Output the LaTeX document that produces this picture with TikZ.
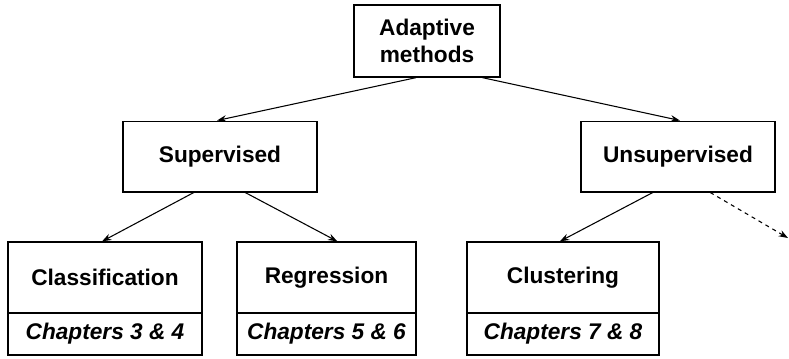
\documentclass[tikz,border=0pt]{standalone}
\usepackage{fontspec}
\setmainfont{Liberation Sans}
\usetikzlibrary{calc,arrows.meta}
\begin{document}
\begin{tikzpicture}[x=0.75pt,y=-0.75pt,
  box/.style={draw,line width=1pt,inner sep=0pt,align=center,font=\fontsize{17}{20}\selectfont\bfseries},
  chap/.style={draw,line width=1pt,inner sep=0pt,align=center,font=\fontsize{17}{20}\selectfont\bfseries\itshape},
  arr/.style={line width=0.8pt,-{Stealth[length=7pt,width=5pt]}}]
\useasboundingbox (0,0) rectangle (789,358);
\node[box,minimum width=109.5pt,minimum height=54pt] (top) at (427,41) {Adaptive\\methods};
\node[box,minimum width=145.5pt,minimum height=53pt] (sup) at (220,156.5) {Supervised};
\node[box,minimum width=145.5pt,minimum height=53pt] (uns) at (678,156.5) {Unsupervised};
\node[box,minimum width=145.5pt,minimum height=53.25pt] (cls) at (105,277.5) {Classification};
\node[chap,minimum width=145.5pt,minimum height=31.5pt] (cls2) at (105,334) {Chapters 3 \& 4};
\node[box,minimum width=134.25pt,minimum height=53.25pt] (reg) at (326.5,277.5) {Regression};
\node[chap,minimum width=134.25pt,minimum height=31.5pt] (reg2) at (326.5,334) {Chapters 5 \& 6};
\node[box,minimum width=144pt,minimum height=53.25pt] (clu) at (563,277.5) {Clustering};
\node[chap,minimum width=144pt,minimum height=31.5pt] (clu2) at (563,334) {Chapters 7 \& 8};
\coordinate (far) at (788,238);
\draw[arr] ($(top.south west)!0.425!(top.south east)$) -- ($(sup.north west)!0.485!(sup.north east)$);
\draw[arr] ($(top.south west)!0.877!(top.south east)$) -- ($(uns.north west)!0.51!(uns.north east)$);
\draw[arr] ($(sup.south west)!0.366!(sup.south east)$) -- ($(cls.north west)!0.485!(cls.north east)$);
\draw[arr] ($(sup.south west)!0.629!(sup.south east)$) -- ($(reg.north west)!0.56!(reg.north east)$);
\draw[arr] ($(uns.south west)!0.371!(uns.south east)$) -- ($(clu.north west)!0.484!(clu.north east)$);
\draw[arr,dashed] ($(uns.south west)!0.665!(uns.south east)$) -- (far);
\end{tikzpicture}
\end{document}
